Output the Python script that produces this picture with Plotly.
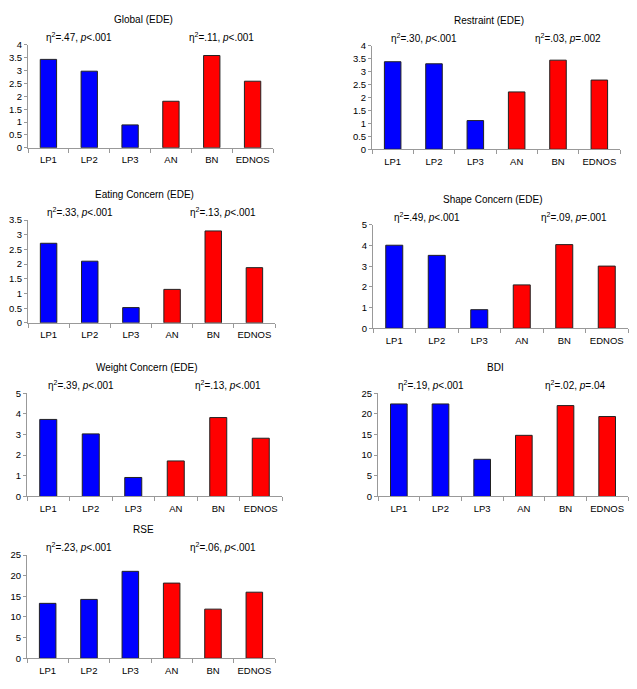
import plotly.graph_objects as go

# reference canvas size; the page body adds an 8px margin, so the figure is
# drawn 16px smaller and every reference pixel position is shifted by -8
W_REF, H_REF = 637, 689
OFF = 8
W, H = W_REF - 2 * OFF, H_REF - 2 * OFF

groups = ["LP1", "LP2", "LP3", "AN", "BN", "EDNOS"]
bar_colors = ["#0000FF", "#0000FF", "#0000FF", "#FF0000", "#FF0000", "#FF0000"]

titles = ["Global (EDE)", "Restraint (EDE)", "Eating Concern (EDE)", "Shape Concern (EDE)",
          "Weight Concern (EDE)", "BDI", "RSE"]

global_ede = [3.44, 2.98, 0.89, 1.81, 3.59, 2.59]
restraint_ede = [3.39, 3.31, 1.11, 2.22, 3.45, 2.68]
eating_ede = [2.71, 2.10, 0.52, 1.14, 3.13, 1.88]
shape_ede = [4.02, 3.53, 0.90, 2.10, 4.05, 3.01]
weight_ede = [3.73, 3.03, 0.92, 1.72, 3.82, 2.82]
bdi = [22.4, 22.4, 9.0, 14.8, 22.0, 19.35]
rse = [13.3, 14.25, 21.05, 18.2, 11.9, 16.0]

series = [global_ede, restraint_ede, eating_ede, shape_ede, weight_ede, bdi, rse]

left_stats = ["η<sup>2</sup>=.47, <i>p</i>&lt;.001", "η<sup>2</sup>=.30, <i>p</i>&lt;.001",
              "η<sup>2</sup>=.33, <i>p</i>&lt;.001", "η<sup>2</sup>=.49, <i>p</i>&lt;.001",
              "η<sup>2</sup>=.39, <i>p</i>&lt;.001", "η<sup>2</sup>=.19, <i>p</i>&lt;.001",
              "η<sup>2</sup>=.23, <i>p</i>&lt;.001"]
right_stats = ["η<sup>2</sup>=.11, <i>p</i>&lt;.001", "η<sup>2</sup>=.03, <i>p</i>=.002",
               "η<sup>2</sup>=.13, <i>p</i>&lt;.001", "η<sup>2</sup>=.09, <i>p</i>=.001",
               "η<sup>2</sup>=.13, <i>p</i>&lt;.001", "η<sup>2</sup>=.02, <i>p</i>=.04",
               "η<sup>2</sup>=.06, <i>p</i>&lt;.001"]

y_max = [4, 4, 3.5, 5, 5, 25, 25]
y_dtick = [0.5, 0.5, 0.5, 1, 1, 5, 5]

# panel pixel boxes in reference coordinates: x0, x1, ytop, ybottom
boxes = [
    (28, 273, 39.5, 144),
    (372, 620, 40.5, 145.5),
    (28, 275, 217.5, 322),
    (373, 628, 222.5, 327.5),
    (27, 282, 393.5, 498.5),
    (378, 628, 393.5, 498.5),
    (27, 275, 558, 663),
]


def px(x):
    return (x - OFF) / W


def py(y):
    return 1 - (y - OFF) / H


font = "Liberation Sans, Arial, sans-serif"
fig = go.Figure()
annotations = []
layout = {}

for i, (vals, box) in enumerate(zip(series, boxes)):
    n = i + 1
    xa = "x" if n == 1 else f"x{n}"
    ya = "y" if n == 1 else f"y{n}"
    fig.add_trace(go.Bar(
        x=groups, y=vals, xaxis=xa, yaxis=ya,
        marker=dict(color=bar_colors, line=dict(color="#222222", width=1)),
        showlegend=False, hoverinfo="x+y",
    ))
    x0, x1, yt, yb = box
    layout[f"xaxis{'' if n == 1 else n}"] = dict(
        domain=[px(x0), px(x1)], anchor=ya, type="category",
        showline=True, linecolor="#999999", linewidth=1,
        ticks="outside", ticklen=4, tickcolor="#999999", tickson="boundaries",
        tickangle=0, ticklabelstandoff=3,
        showgrid=False, tickfont=dict(size=9.5, color="#000000", family=font),
        fixedrange=True,
    )
    layout[f"yaxis{'' if n == 1 else n}"] = dict(
        domain=[py(yb), py(yt)], anchor=xa,
        range=[0, y_max[i]], dtick=y_dtick[i], tick0=0,
        showline=True, linecolor="#999999", linewidth=1,
        ticks="outside", ticklen=3, tickcolor="#999999",
        showgrid=False, zeroline=False,
        tickfont=dict(size=9.5, color="#000000", family=font),
        fixedrange=True,
    )
    annotations.append(dict(text=titles[i], xref="paper", yref="paper",
                            x=px(x0 + 0.47 * (x1 - x0)), y=py(yt - 26), showarrow=False,
                            xanchor="center", yanchor="middle",
                            font=dict(size=10, family=font, color="#000000")))
    annotations.append(dict(text=left_stats[i], xref="paper", yref="paper",
                            x=px(x0 + 0.21 * (x1 - x0)), y=py(yt - 8.5),
                            showarrow=False, xanchor="center", yanchor="middle",
                            font=dict(size=10, family=font, color="#000000")))
    annotations.append(dict(text=right_stats[i], xref="paper", yref="paper",
                            x=px(x0 + 0.79 * (x1 - x0)), y=py(yt - 8.5),
                            showarrow=False, xanchor="center", yanchor="middle",
                            font=dict(size=10, family=font, color="#000000")))

fig.update_layout(
    width=W, height=H,
    margin=dict(l=0, r=0, t=0, b=0),
    paper_bgcolor="white", plot_bgcolor="white",
    bargap=0.6,
    annotations=annotations,
    **layout,
)

fig.write_html("out.html")
